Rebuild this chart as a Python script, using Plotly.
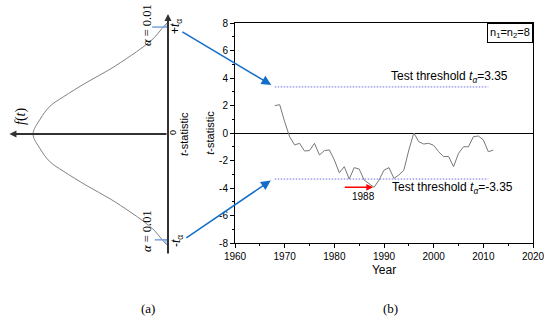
import plotly.graph_objects as go

# ---------------- data ----------------
years = list(range(1968, 2013))
t_stat = [1.99, 2.06, 0.82, -0.27, -0.87, -0.75, -1.31, -1.28, -0.75, -1.60,
          -1.28, -1.23, -1.96, -2.89, -2.45, -3.35, -2.52, -2.62, -3.42, -3.66,
          -3.95, -3.42, -2.70, -2.52, -3.30, -3.05, -2.70, -1.24, 0.00, -0.63,
          -0.80, -0.75, -0.90, -1.36, -1.72, -1.70, -2.45, -1.48, -1.00, -1.00,
          -0.27, -0.22, -0.50, -1.36, -1.24]
thr_years = [1968, 2011]
thr_upper = 3.35
thr_lower = -3.35
y_ticks = [-8, -6, -4, -2, 0, 2, 4, 6, 8]
y_ticklabels = ["-8", "-6", "-4", "-2", "0", "2", "4", "6", "8"]
x_ticks = [1960, 1970, 1980, 1990, 2000, 2010, 2020]
x_ticklabels = ["1960", "1970", "1980", "1990", "2000", "2010", "2020"]

# density curve of panel (a) (half, mirrored)
t_half = [0.0, 0.4, 0.75, 1.0, 1.4, 1.75, 2.1, 2.35, 2.6, 2.85, 3.0]
f_half = [0.400, 0.379, 0.350, 0.311, 0.240, 0.172, 0.113, 0.074, 0.041, 0.018, 0.003]
t_crit = [2.89, -2.86]
tail_t_top = [2.89, 2.95, 3.0, 3.0, 2.89]
tail_f_top = [0.012, 0.007, 0.003, 0.0, 0.0]
tail_t_bot = [-2.86, -2.93, -3.0, -3.0, -2.86]
tail_f_bot = [0.014, 0.008, 0.003, 0.0, 0.0]

# ---------------- helpers ----------------
W, H = 550, 321
def px(x):
    return x / W
def py(y):
    return 1 - y / H

BLUE = "rgb(20,110,200)"
DOT = "rgb(110,110,240)"
FONT = "Liberation Sans, Arial, sans-serif"
SERIF = "Liberation Serif, Times New Roman, serif"

fig = go.Figure()

# ---------- panel (b) ----------
fig.add_trace(go.Scatter(x=years, y=t_stat, mode="lines",
                         line=dict(color="rgb(120,120,120)", width=1),
                         xaxis="x", yaxis="y"))
fig.add_trace(go.Scatter(x=thr_years, y=[thr_upper] * 2, mode="lines",
                         line=dict(color=DOT, width=1, dash="1.5px,1.5px"),
                         xaxis="x", yaxis="y"))
fig.add_trace(go.Scatter(x=thr_years, y=[thr_lower] * 2, mode="lines",
                         line=dict(color=DOT, width=1, dash="1.5px,1.5px"),
                         xaxis="x", yaxis="y"))

# ---------- panel (a) ----------
t_full = [-v for v in t_half[::-1]] + t_half[1:]
f_full = f_half[::-1] + f_half[1:]
fig.add_trace(go.Scatter(x=f_full, y=t_full, mode="lines", line_shape="spline",
                         line=dict(color="rgb(130,130,130)", width=1),
                         xaxis="x2", yaxis="y2"))
for tt, ff in ((tail_t_top, tail_f_top), (tail_t_bot, tail_f_bot)):
    fig.add_trace(go.Scatter(x=ff, y=tt, mode="lines", fill="toself",
                             line=dict(color="rgb(120,160,220)", width=0.5),
                             fillcolor="rgba(150,180,230,0.6)",
                             xaxis="x2", yaxis="y2"))
fig.add_trace(go.Scatter(x=[0, 0.047], y=[t_crit[0]] * 2, mode="lines",
                         line=dict(color="rgb(120,160,220)", width=1.5),
                         xaxis="x2", yaxis="y2"))
fig.add_trace(go.Scatter(x=[0, 0.039], y=[t_crit[1]] * 2, mode="lines",
                         line=dict(color="rgb(120,160,220)", width=1.5),
                         xaxis="x2", yaxis="y2"))

ann = []
# axes of panel (a)
ann.append(dict(xref="x2", yref="y2", axref="x2", ayref="y2",
                x=0, y=3.24, ax=0, ay=-3.27, text="", showarrow=True,
                arrowhead=2, arrowsize=0.7, arrowwidth=2, arrowcolor="rgb(50,50,50)"))
ann.append(dict(xref="x2", yref="y2", axref="x2", ayref="y2",
                x=0.47, y=0, ax=0, ay=0, text="", showarrow=True,
                arrowhead=2, arrowsize=0.7, arrowwidth=2, arrowcolor="rgb(50,50,50)"))

def txt(x, y, s, size=11, angle=0, family=FONT, **kw):
    d = dict(xref="paper", yref="paper", x=px(x), y=py(y), text=s, showarrow=False,
             font=dict(size=size, family=family, color="black"), textangle=angle,
             xanchor="center", yanchor="middle")
    d.update(kw)
    ann.append(d)

txt(21, 117, "<i>f</i>(<i>t</i>)", size=14, angle=-90, family=SERIF)
txt(147, 25, "<i>α</i> = 0.01", size=12.5, angle=-90, family=SERIF)
txt(147, 231, "<i>α</i> = 0.01", size=12.5, angle=-90, family=SERIF)
txt(176, 27, "+<i>t</i><sub>α</sub>", size=12, angle=-90)
txt(177, 241, "-<i>t</i><sub>α</sub>", size=12, angle=-90)
txt(173, 133, "0", size=9, angle=-90)
txt(184, 134, "<i>t</i>-statistic", size=11, angle=-90)
txt(148, 308, "(a)", size=13, family=SERIF)
txt(390, 308, "(b)", size=13, family=SERIF)

# panel (b) annotations
ann.append(dict(xref="x", yref="y", x=1991.0, y=4.05, xanchor="left", yanchor="middle",
                text="Test threshold <i>t</i><sub><i>α</i></sub>=3.35", showarrow=False,
                font=dict(size=12, family=FONT, color="black")))
ann.append(dict(xref="x", yref="y", x=1991.2, y=-4.0, xanchor="left", yanchor="middle",
                text="Test threshold <i>t</i><sub><i>α</i></sub>=-3.35", showarrow=False,
                font=dict(size=12, family=FONT, color="black")))
ann.append(dict(xref="x", yref="y", x=1985.8, y=-4.65, text="1988", showarrow=False,
                font=dict(size=10, family=FONT, color="black")))
ann.append(dict(xref="x", yref="y", axref="x", ayref="y", x=1987.8, y=-3.95,
                ax=1981.8, ay=-3.95, text="", showarrow=True, arrowhead=2,
                arrowsize=0.9, arrowwidth=1.5, arrowcolor="red"))
# blue connecting arrows
ann.append(dict(xref="x", yref="y", axref="x", ayref="y", x=1967.3, y=3.5,
                ax=1949.1, ay=7.42, text="", showarrow=True, arrowhead=2,
                arrowsize=1.3, arrowwidth=1.5, arrowcolor=BLUE))
ann.append(dict(xref="x", yref="y", axref="x", ayref="y", x=1967.2, y=-3.45,
                ax=1949.9, ay=-7.71, text="", showarrow=True, arrowhead=2,
                arrowsize=1.3, arrowwidth=1.5, arrowcolor=BLUE))
# n1=n2=8 box
ann.append(dict(xref="paper", yref="paper", x=px(533), y=py(23), xanchor="right",
                yanchor="top", text="n<sub>1</sub>=n<sub>2</sub>=8", showarrow=False,
                font=dict(size=11, family=FONT, color="black"),
                bordercolor="black", borderwidth=1, borderpad=2, bgcolor="white"))

fig.update_layout(
    width=W, height=H, margin=dict(l=0, r=0, t=0, b=0, autoexpand=False),
    paper_bgcolor="white", plot_bgcolor="white", showlegend=False,
    annotations=ann,
    xaxis=dict(domain=[px(235), px(533)], range=[1960, 2020], anchor="y",
               automargin=False,
               tickvals=x_ticks, ticktext=x_ticklabels, ticks="outside", ticklen=4,
               tickcolor="black", showline=True, linecolor="black", linewidth=1,
               mirror=True, showgrid=False, zeroline=False,
               tickfont=dict(size=10, family=FONT, color="black"),
               minor=dict(ticks="outside", ticklen=2, dtick=5, tick0=1960, tickcolor="black"),
               title=dict(text="Year", font=dict(size=12, family=FONT, color="black"),
                          standoff=4)),
    yaxis=dict(domain=[py(243), py(23)], range=[-8, 8], anchor="x",
               automargin=False,
               tickvals=y_ticks, ticktext=y_ticklabels, ticks="outside", ticklen=4,
               tickcolor="black", showline=True, linecolor="black", linewidth=1,
               mirror=True, showgrid=False, zeroline=True, zerolinecolor="black",
               zerolinewidth=1,
               tickfont=dict(size=10, family=FONT, color="black"),
               minor=dict(ticks="outside", ticklen=2, dtick=1, tick0=0, tickcolor="black"),
               title=dict(text="<i>t</i>-statistic",
                          font=dict(size=11, family=FONT, color="black"), standoff=2)),
    xaxis2=dict(domain=[0, px(168)], range=[0.498, 0], anchor="y2", visible=False,
                automargin=False),
    yaxis2=dict(domain=[py(255), py(14)], range=[-3.27, 3.243], anchor="x2", visible=False,
                automargin=False),
)

fig.write_html("out.html",
               config={"displayModeBar": False},
               post_script="document.body.style.margin='0px';"
                           "document.body.style.overflow='hidden';")
